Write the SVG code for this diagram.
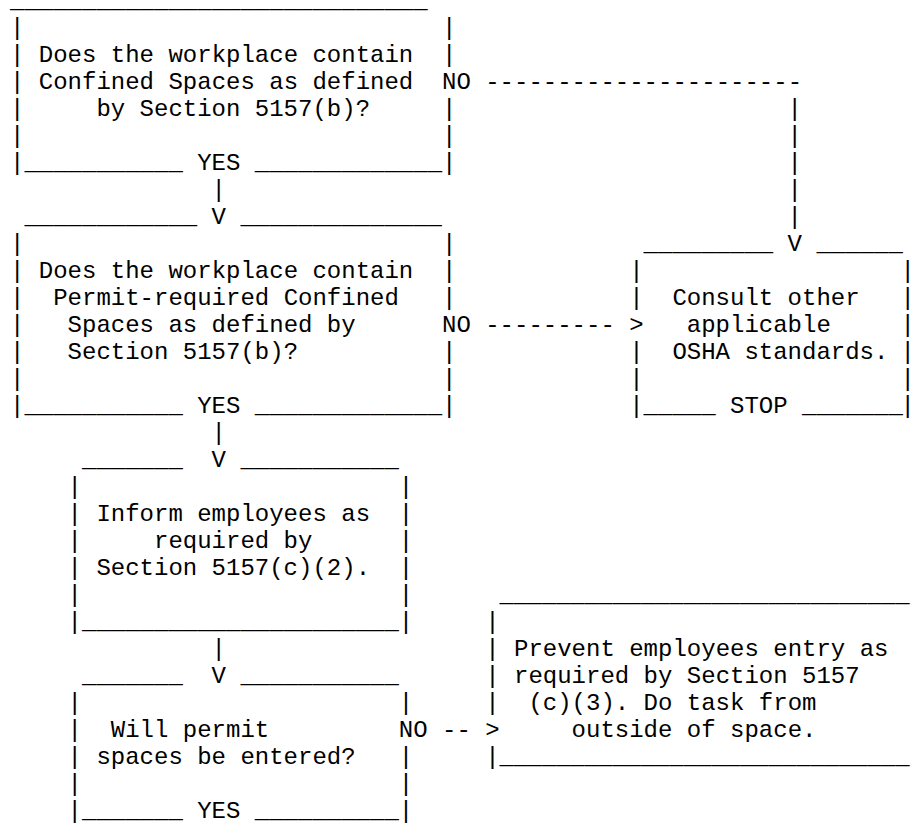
<svg xmlns="http://www.w3.org/2000/svg" width="915" height="826" viewBox="0 0 915 826">
<style>
.t{font-family:"Liberation Mono","Courier New",monospace;font-size:24px;fill:#000;}
</style>
<rect x="0" y="0" width="915" height="826" fill="#fff"/>
<g id="node-confined">
<text class="t" x="10" y="8">_____________________________</text>
<text class="t" x="10 10 10 10 10 10" y="35 62 89 116 143 170">||||||</text>
<text class="t" x="442 442 442 442 442" y="35 62 116 143 170">|||||</text>
<text class="t" x="38.8" y="62">Does the workplace contain</text>
<text class="t" x="38.8" y="89">Confined Spaces as defined</text>
<text class="t" x="96.4" y="116">by Section 5157(b)?</text>
<text class="t" x="24.4" y="170">___________</text>
<text class="t" x="254.8" y="170">_____________</text>
</g>
<g id="node-permit">
<text class="t" x="24.4" y="224">____________</text>
<text class="t" x="240.4" y="224">______________</text>
<text class="t" x="10 10 10 10 10 10 10" y="251 278 305 332 359 386 413">|||||||</text>
<text class="t" x="442 442 442 442 442 442" y="251 278 305 359 386 413">||||||</text>
<text class="t" x="38.8" y="278">Does the workplace contain</text>
<text class="t" x="53.2" y="305">Permit-required Confined</text>
<text class="t" x="67.6" y="332">Spaces as defined by</text>
<text class="t" x="67.6" y="359">Section 5157(b)?</text>
<text class="t" x="24.4" y="413">___________</text>
<text class="t" x="254.8" y="413">_____________</text>
</g>
<g id="node-consult">
<text class="t" x="643.6" y="251">_________</text>
<text class="t" x="816.4" y="251">______</text>
<text class="t" x="629.2 629.2 629.2 629.2 629.2" y="278 305 359 386 413">|||||</text>
<text class="t" x="900.6 900.6 900.6 900.6 900.6 900.6" y="278 305 332 359 386 413">||||||</text>
<text class="t" x="672.4" y="305">Consult other</text>
<text class="t" x="686.8" y="332">applicable</text>
<text class="t" x="672.4" y="359">OSHA standards.</text>
<text class="t" x="643.6" y="413">_____</text>
<text class="t" x="730" y="413">STOP</text>
<text class="t" x="802" y="413">_______</text>
</g>
<g id="node-inform">
<text class="t" x="82" y="467">_______</text>
<text class="t" x="240.4" y="467">___________</text>
<text class="t" x="67.6 67.6 67.6 67.6 67.6 67.6" y="494 521 548 575 602 629">||||||</text>
<text class="t" x="398.8 398.8 398.8 398.8 398.8 398.8" y="494 521 548 575 602 629">||||||</text>
<text class="t" x="96.4" y="521">Inform employees as</text>
<text class="t" x="154" y="548">required by</text>
<text class="t" x="96.4" y="575">Section 5157(c)(2).</text>
<text class="t" x="82" y="629">______________________</text>
</g>
<g id="node-enter">
<text class="t" x="82" y="683">_______</text>
<text class="t" x="240.4" y="683">___________</text>
<text class="t" x="67.6 67.6 67.6 67.6 67.6" y="710 737 764 791 818">|||||</text>
<text class="t" x="398.8 398.8 398.8 398.8" y="710 764 791 818">||||</text>
<text class="t" x="110.8" y="737">Will permit</text>
<text class="t" x="96.4" y="764">spaces be entered?</text>
<text class="t" x="82" y="818">_______</text>
<text class="t" x="254.8" y="818">__________</text>
</g>
<g id="node-prevent">
<text class="t" x="499.6" y="602" textLength="410" lengthAdjust="spacingAndGlyphs">_____________________________</text>
<text class="t" x="485.2 485.2 485.2 485.2 485.2" y="629 656 683 710 764">|||||</text>
<text class="t" x="514" y="656">Prevent employees entry as</text>
<text class="t" x="514" y="683">required by Section 5157</text>
<text class="t" x="528.4" y="710">(c)(3). Do task from</text>
<text class="t" x="571.6" y="737">outside of space.</text>
<text class="t" x="499.6" y="764" textLength="410" lengthAdjust="spacingAndGlyphs">_____________________________</text>
</g>
<g id="connectors">
<text class="t" x="197.2" y="170">YES</text>
<text class="t" x="211.6" y="197">|</text>
<text class="t" x="211.6" y="224">V</text>
<text class="t" x="442" y="89">NO</text>
<text class="t" x="485.2" y="89">----------------------</text>
<text class="t" x="787.6 787.6 787.6 787.6 787.6" y="116 143 170 197 224">|||||</text>
<text class="t" x="787.6" y="251">V</text>
<text class="t" x="442" y="332">NO</text>
<text class="t" x="485.2" y="332">---------</text>
<text class="t" x="629.2" y="332">&gt;</text>
<text class="t" x="197.2" y="413">YES</text>
<text class="t" x="211.6" y="440">|</text>
<text class="t" x="211.6" y="467">V</text>
<text class="t" x="211.6" y="656">|</text>
<text class="t" x="211.6" y="683">V</text>
<text class="t" x="398.8" y="737">NO</text>
<text class="t" x="442" y="737">--</text>
<text class="t" x="485.2" y="737">&gt;</text>
<text class="t" x="197.2" y="818">YES</text>
</g>
</svg>
